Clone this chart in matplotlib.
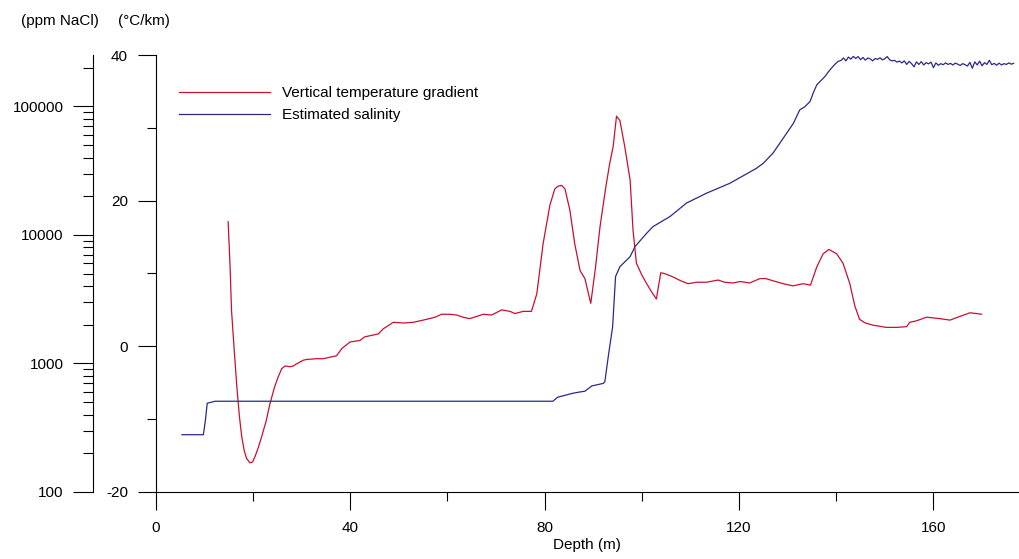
import numpy as np
import matplotlib
matplotlib.use('Agg')
import matplotlib.pyplot as plt
from matplotlib import ticker

plt.rcParams['font.family'] = ['Liberation Sans', 'DejaVu Sans']
plt.rcParams['axes.unicode_minus'] = False

# vertical temperature gradient (degC/km) vs depth (m)
grad_depth = [14.9, 15.3, 15.6, 16.2, 16.7, 17.2, 17.7, 18.2, 18.7, 19.4, 19.9, 20.4,
              21.1, 21.8, 22.7, 23.5, 24.4, 25.2, 25.9, 26.6, 27.6, 28.3, 29.0, 30.4,
              31.1, 33.1, 34.5, 35.8, 37.2, 38.3, 40.0, 42.0, 43.0, 45.8, 46.8, 48.9,
              51.0, 53.0, 55.7, 57.5, 58.8, 60.5, 61.9, 63.2, 64.6, 66.0, 67.4, 69.1,
              71.2, 72.9, 73.9, 75.6, 77.3, 78.4, 79.7, 81.1, 82.1, 82.8, 83.5, 84.2,
              85.2, 86.2, 87.3, 88.3, 89.5, 90.4, 91.4, 92.6, 93.4, 94.1, 94.8, 95.5,
              96.5, 97.6, 98.2, 98.9, 100.0, 101.0, 102.0, 103.0, 103.9, 104.6, 105.8, 106.5,
              108.0, 109.5, 111.3, 113.3, 115.7, 117.0, 118.8, 120.2, 122.2, 124.3, 125.5, 127.0,
              129.1, 131.1, 133.2, 134.7, 136.0, 137.3, 138.5, 140.1, 141.4, 142.8, 143.8, 144.8,
              146.0, 147.6, 150.3, 152.5, 154.5, 155.1, 156.5, 158.6, 161.3, 163.4, 165.4, 167.5,
              168.9, 169.9]
grad_value = [17.1, 11.0, 4.9, -1.0, -5.6, -9.5, -12.4, -14.3, -15.4, -16.0, -15.9, -15.2,
              -13.9, -12.4, -10.3, -7.9, -5.7, -4.2, -3.1, -2.7, -2.8, -2.7, -2.4, -1.9,
              -1.8, -1.7, -1.7, -1.5, -1.3, -0.3, 0.6, 0.8, 1.3, 1.7, 2.4, 3.3,
              3.2, 3.3, 3.7, 4.0, 4.4, 4.4, 4.3, 4.0, 3.8, 4.1, 4.4, 4.3,
              5.0, 4.8, 4.5, 4.8, 4.8, 7.2, 14.1, 19.4, 21.6, 22.0, 22.1, 21.6,
              18.7, 14.1, 10.4, 9.3, 5.9, 10.4, 16.4, 21.9, 25.1, 27.4, 31.6, 31.0,
              27.4, 22.8, 15.9, 11.4, 9.8, 8.6, 7.5, 6.5, 10.1, 10.0, 9.7, 9.5,
              9.0, 8.6, 8.8, 8.8, 9.1, 8.8, 8.7, 8.9, 8.7, 9.3, 9.3, 9.0,
              8.6, 8.3, 8.6, 8.4, 10.9, 12.7, 13.3, 12.7, 11.4, 8.6, 5.6, 3.7,
              3.2, 2.9, 2.6, 2.6, 2.7, 3.3, 3.5, 4.0, 3.8, 3.6, 4.1, 4.6,
              4.5, 4.4]

# estimated salinity (ppm NaCl) vs depth (m)
sal_depth = [5.4, 9.8, 10.2, 10.6, 12.2, 30.0, 50.0, 70.0, 81.7, 82.7, 85.8, 87.3,
             88.3, 89.7, 92.1, 92.4, 93.1, 94.0, 94.6, 95.5, 97.6, 98.6, 101.0, 102.3,
             105.8, 109.2, 113.3, 118.1, 123.6, 125.0, 127.0, 129.8, 131.2, 132.5, 133.5, 134.6,
             135.3, 136.0, 136.8, 137.7, 138.4, 139.0, 139.8, 140.4,
             141.0, 141.5, 142.0, 142.5, 143.0, 143.5, 144.0, 144.5, 145.0, 145.5, 146.0, 146.5,
             147.0, 147.5, 148.0, 148.5, 149.0, 149.5, 150.0, 150.5, 151.0, 151.5, 152.0, 152.5,
             153.0, 153.5, 154.0, 154.5, 155.0, 155.5, 156.0, 156.5, 157.0, 157.5, 158.0, 158.5,
             159.0, 159.5, 160.0, 160.5, 161.0, 161.5, 162.0, 162.5, 163.0, 163.5, 164.0, 164.5,
             165.0, 165.5, 166.0, 166.5, 167.0, 167.5, 168.0, 168.5, 169.0, 169.5, 170.0, 170.5,
             171.0, 171.5, 172.0, 172.5, 173.0, 173.5, 174.0, 174.5, 175.0, 175.5, 176.0, 176.5]
sal_ppm = [279, 279, 355, 490, 508, 508, 508, 508, 508, 546, 586, 600,
           608, 668, 700, 721, 1130, 1930, 4740, 5660, 6780, 8110, 10300, 11600,
           13900, 17700, 21100, 25200, 33000, 36100, 43300, 61800, 74000, 94000, 99000, 109000,
           128000, 147000, 158000, 171000, 186000, 198000, 214000, 224000,
           228000, 238000, 226000, 242000, 233000, 245000, 236000, 244000, 231000, 240000, 229000, 238000,
           234000, 226000, 236000, 232000, 239000, 230000, 235000, 244000, 230000, 226000, 228000, 221000,
           225000, 218000, 226000, 212000, 224000, 215000, 203000, 222000, 212000, 223000, 210000, 219000,
           214000, 221000, 200000, 218000, 209000, 215000, 211000, 218000, 212000, 216000, 210000, 217000,
           213000, 208000, 215000, 211000, 206000, 220000, 198000, 222000, 210000, 225000, 207000, 219000,
           212000, 228000, 211000, 216000, 209000, 217000, 210000, 215000, 212000, 218000, 213000, 216000]

red = '#c8102e'
navy = '#2a2a86'

fig = plt.figure(figsize=(10.19, 5.59), dpi=100)
ax = fig.add_axes([0.1528, 0.1199, 0.8472, 0.7817])
ax2 = ax.twinx()

l1, = ax.plot(grad_depth, grad_value, color=red, linewidth=0.9,
              label='Vertical temperature gradient')
l2, = ax2.plot(sal_depth, sal_ppm, color=navy, linewidth=0.9,
               label='Estimated salinity')

ax.set_xlim(0, 177.6)
ax.set_ylim(-20, 40)
ax.set_xticks([0, 40, 80, 120, 160])
ax.xaxis.set_minor_locator(ticker.MultipleLocator(20))
ax.set_yticks([-20, 0, 20, 40])
ax.yaxis.set_minor_locator(ticker.MultipleLocator(10))
for s in ['top', 'right']:
    ax.spines[s].set_visible(False)
for s in ['left', 'bottom']:
    ax.spines[s].set_linewidth(0.8)
ax.tick_params(axis='both', which='major', length=13, width=0.8, labelsize=11, pad=7)
ax.tick_params(axis='both', which='minor', length=6.5, width=0.8)
ax.tick_params(axis='x', which='major', pad=8)
ax.set_xlabel('Depth (m)', fontsize=11, labelpad=2)

ax2.set_yscale('log')
ax2.set_ylim(100, 251000)
for s in ['top', 'right', 'bottom']:
    ax2.spines[s].set_visible(False)
ax2.spines['left'].set_visible(True)
ax2.spines['left'].set_position(('outward', 45))
ax2.spines['left'].set_linewidth(0.8)
ax2.yaxis.tick_left()
ax2.yaxis.set_major_locator(ticker.FixedLocator([100, 1000, 10000, 100000]))
ax2.yaxis.set_major_formatter(ticker.FixedFormatter(['100', '1000', '10000', '100000']))
ax2.yaxis.set_minor_locator(ticker.LogLocator(base=10, subs=np.arange(2, 10)))
ax2.yaxis.set_minor_formatter(ticker.NullFormatter())
ax2.tick_params(axis='y', which='major', length=14.4, width=0.8, labelsize=11, pad=7)
ax2.tick_params(axis='y', which='minor', length=7.2, width=0.8)

ax2.legend(handles=[l1, l2], loc='upper left', bbox_to_anchor=(179 / 1019, 1 - 86.5 / 559),
           bbox_transform=fig.transFigure, frameon=False, fontsize=11, borderpad=0,
           borderaxespad=0, handlelength=5.95, handletextpad=0.76, labelspacing=0.52)

fig.text(21 / 1019, 1 - 21 / 559, '(ppm NaCl)', fontsize=11, ha='left', va='center')
fig.text(118 / 1019, 1 - 21 / 559, '(\u00b0C/km)', fontsize=11, ha='left', va='center')

fig.savefig('out.png', dpi=100)
